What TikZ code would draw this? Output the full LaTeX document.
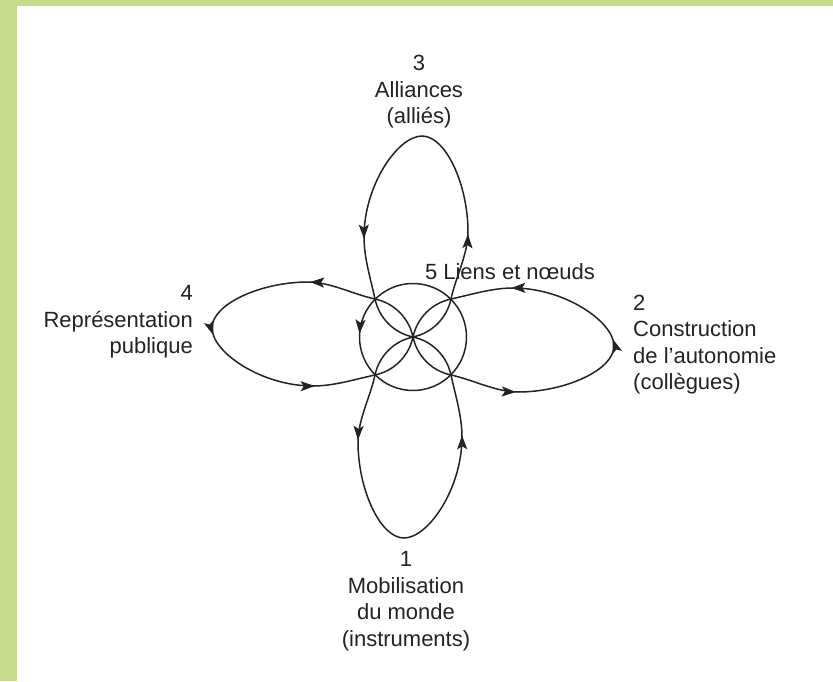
\documentclass[tikz,border=0pt]{standalone}
\usepackage{fontspec}
\setmainfont{Liberation Sans}
\usetikzlibrary{arrows.meta,decorations.markings}
\definecolor{ink}{RGB}{35,35,35}
\definecolor{leaf}{RGB}{199,218,142}
\begin{document}
\begin{tikzpicture}[x=1pt,y=1pt,
  >={Stealth[length=14pt,width=10pt,inset=3pt]},
  strand/.style={color=ink,line width=1.5pt},
  txt/.style={font=\fontsize{22}{26.5}\selectfont,text=ink,inner sep=0pt},
  petalplain/.style={decoration={markings,
     mark=at position 0.256 with {\arrow{>}},
     mark=at position 0.756 with {\arrow{>}}},postaction={decorate}},
  petalapex/.style={decoration={markings,
     mark=at position 0.256 with {\arrow{>}},
     mark=at position 0.51 with {\arrow{>}},
     mark=at position 0.756 with {\arrow{>}}},postaction={decorate}},
  ringarrow/.style={decoration={markings,
     mark=at position 0.49 with {\arrow{>}}},postaction={decorate}}
]
\useasboundingbox (-413,-344) rectangle (420,337);
\fill[white] (-413,-344) rectangle (420,337);
\fill[leaf] (-413,-344) rectangle (-396,337);
\fill[leaf] (-413,331) rectangle (420,337);

\coordinate (knot) at (0,0);

\foreach \ang/\sty in {0/petalplain,90/petalapex,180/petalplain,270/petalapex}{
  \draw[strand,rotate=\ang,\sty] (knot) .. controls (19.1,4.1) and (33.95,18.9) .. (38,38)
    .. controls (42.6,59.5) and (55,83) .. (55,105)
    .. controls (55,152) and (33,201) .. (9,201)
    .. controls (-15,201) and (-49,152) .. (-49,100)
    .. controls (-49,79) and (-42.2,57.6) .. (-38,38)
    .. controls (-33.9,18.9) and (-19.1,4.1) .. (knot);
}

\draw[strand,ringarrow] (53.5,0) arc[start angle=0,end angle=360,radius=53.5];

\node[txt,align=center] (lab3) at (6,245) {3\\Alliances\\(alliés)};
\node[txt,align=center] (lab1) at (-7,-264) {1\\Mobilisation\\du monde\\(instruments)};
\node[txt,align=right,anchor=east] (lab4) at (-220,15) {4\\Représentation\\publique};
\node[txt,align=left,anchor=west] (lab2) at (220,-7.5) {2\\Construction\\de l'autonomie\\(collègues)};
\node[txt] (lab5) at (97,65) {5 Liens et nœuds};
\end{tikzpicture}
\end{document}
